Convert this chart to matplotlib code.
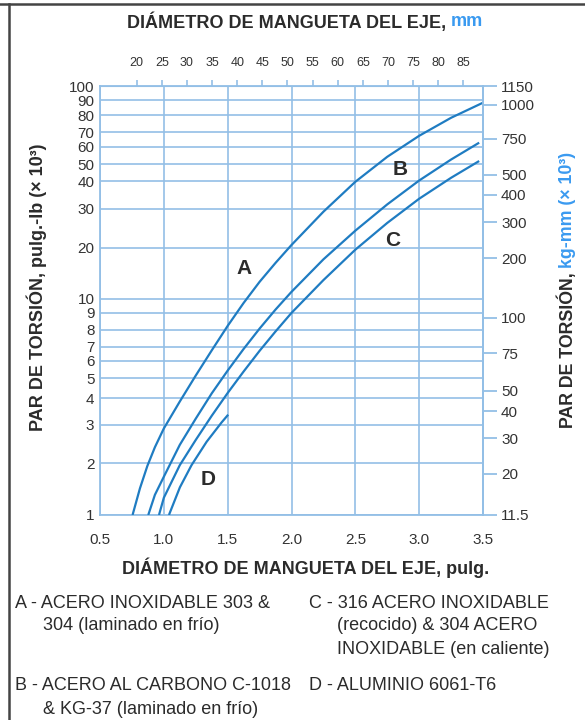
import numpy as np
import matplotlib
matplotlib.use("Agg")
import matplotlib.pyplot as plt

plt.rcParams['font.family'] = ['Liberation Sans', 'DejaVu Sans']

# curves: shaft diameter (in) vs torque (lb-in x 10^3)
diam_a = [0.755, 0.813, 0.871, 0.93, 1.0, 1.125, 1.25, 1.375, 1.5, 1.625, 1.75,
          1.875, 2.0, 2.25, 2.5, 2.75, 3.0, 3.25, 3.5]
torque_a = [1, 1.43, 1.93, 2.37, 2.89, 3.86, 5.14, 6.71, 8.22, 9.69, 12.6,
            16.3, 20.6, 29.1, 39.7, 54.1, 67.3, 78.5, 88.4]
diam_b = [0.878, 0.93, 1.0, 1.125, 1.25, 1.375, 1.5, 1.625, 1.75, 1.875, 2.0,
          2.25, 2.5, 2.75, 3.0, 3.25, 3.47]
torque_b = [1, 1.31, 1.67, 2.43, 3.21, 4.22, 5.41, 6.82, 8.07, 9.21, 11.0,
            17.1, 23.9, 31.4, 40.3, 52.6, 62.6]
diam_c = [0.962, 1.0, 1.125, 1.25, 1.375, 1.5, 1.625, 1.75, 1.875, 2.0,
          2.25, 2.5, 2.75, 3.0, 3.25, 3.47]
torque_c = [1, 1.26, 1.95, 2.56, 3.31, 4.24, 5.36, 6.68, 7.90, 8.98,
            12.9, 19.5, 25.9, 33.3, 41.8, 51.8]
diam_d = [1.04, 1.126, 1.217, 1.335, 1.452, 1.504]
torque_d = [1, 1.45, 1.95, 2.51, 3.08, 3.35]

x_ticks = [0.5, 1.0, 1.5, 2.0, 2.5, 3.0, 3.5]
mm_ticks = [20, 25, 30, 35, 40, 45, 50, 55, 60, 65, 70, 75, 80, 85]
lb_ticks = [1, 2, 3, 4, 5, 6, 7, 8, 9, 10, 20, 30, 40, 50, 60, 70, 80, 90, 100]
kg_ticks = [11.5, 20, 30, 40, 50, 75, 100, 200, 300, 400, 500, 750, 1000, 1150]
kg_labels = ['11.5', '20', '30', '40', '50', '75', '100', '200', '300', '400',
             '500', '750', '1000', '1150']
KG_PER_LB = 11.5

legend_left = [
    ["A - ACERO INOXIDABLE 303 &", "304 (laminado en frío)"],
    ["B - ACERO AL CARBONO C-1018", "& KG-37 (laminado en frío)"],
]
legend_right = [
    ["C - 316 ACERO INOXIDABLE", "(recocido) & 304 ACERO", "INOXIDABLE (en caliente)"],
    ["D - ALUMINIO 6061-T6"],
]

# the printed chart uses an uneven torque scale; height (px) of each gridline
scale_pos = [0, 51.7, 90, 116.7, 136.7, 154.3, 168.3, 185, 202.3, 216,
             267, 306, 333.7, 350.3, 368, 382.7, 399.3, 414.3, 428.7]
log_breaks = np.log10(lb_ticks)


def fwd(v):
    v = np.clip(np.asarray(v, dtype=float), 1e-9, None)
    return np.interp(np.log10(v), log_breaks, scale_pos)


def inv(u):
    return 10 ** np.interp(np.asarray(u, dtype=float), scale_pos, log_breaks)


W, H = 585, 720
BLUE_LINE = '#1f7cc2'
GRID = '#93bfe6'
TXT = '#2b2b2b'
MM_BLUE = '#3a9af0'

fig = plt.figure(figsize=(W / 100, H / 100), dpi=100)
ax = fig.add_axes([100 / W, 1 - 515 / H, 383 / W, 429 / H])

ax.set_yscale('function', functions=(fwd, inv))
ax.set_xlim(0.5, 3.5)
ax.set_ylim(1, 100)
ax.set_xticks(x_ticks, labels=['%.1f' % t for t in x_ticks])
ax.set_yticks(lb_ticks, labels=[str(t) for t in lb_ticks])
ax.minorticks_off()
ax.grid(True, color=GRID, lw=1.2)
ax.set_axisbelow(True)
for s in ax.spines.values():
    s.set_color(GRID)
    s.set_linewidth(1.3)
ax.tick_params(axis='x', length=0, pad=13, labelsize=11, labelcolor='#333')
ax.tick_params(axis='y', length=0, pad=4, labelsize=11, labelcolor='#333')

for d, t in [(diam_a, torque_a), (diam_b, torque_b), (diam_c, torque_c), (diam_d, torque_d)]:
    ax.plot(d, t, color=BLUE_LINE, lw=1.6, zorder=3, solid_capstyle='butt',
            solid_joinstyle='round')

for lab, xx, yy in [('A', 1.63, 15.2), ('B', 2.85, 46.5), ('C', 2.79, 21.5), ('D', 1.345, 1.6)]:
    ax.text(xx, yy, lab, fontsize=15, fontweight='bold', color=TXT,
            ha='center', va='center', zorder=4)

# right axis in kg-mm
ax2 = ax.twinx()
ax2.set_yscale('function', functions=(fwd, inv))
ax2.set_ylim(1, 100)
ax2.set_yticks(np.array(kg_ticks) / KG_PER_LB, labels=kg_labels)
ax2.minorticks_off()
for name, s in ax2.spines.items():
    s.set_visible(name == 'right')
    s.set_color(GRID)
    s.set_linewidth(1.3)
ax2.tick_params(axis='y', length=10, width=1.3, color=GRID, pad=3,
                labelsize=11, labelcolor='#333')

# top axis in mm
secax = ax.secondary_xaxis('top', functions=(lambda d: d * 25.4, lambda m: m / 25.4))
secax.set_xticks(mm_ticks, labels=[str(m) for m in mm_ticks])
secax.spines['top'].set_color(GRID)
secax.tick_params(axis='x', length=4, width=1.2, color=GRID, pad=8,
                  labelsize=9, labelcolor='#333')


def px(x, y):
    return x / W, 1 - y / H


def two_tone(cx, cy, parts, rotation=0, **kw):
    texts = []
    for s, c in parts:
        t = fig.text(*px(cx, cy), s, color=c, rotation=rotation,
                     rotation_mode='anchor', ha='left', va='center', **kw)
        texts.append(t)
    fig.canvas.draw()
    r = fig.canvas.get_renderer()
    sizes = []
    for t in texts:
        bb = t.get_window_extent(r)
        sizes.append(bb.height if rotation else bb.width)
    total = sum(sizes)
    pos = -total / 2
    for t, sz in zip(texts, sizes):
        if rotation:
            t.set_position(px(cx, cy - pos))
        else:
            t.set_position(px(cx + pos, cy))
        pos += sz


two_tone(305, 22, [("DIÁMETRO DE MANGUETA DEL EJE, ", TXT), ("mm", MM_BLUE)],
         fontsize=13, fontweight='bold')
two_tone(306, 568, [("DIÁMETRO DE MANGUETA DEL EJE, pulg.", TXT)],
         fontsize=13, fontweight='bold')
two_tone(37, 287, [("PAR DE TORSIÓN, pulg.-lb (× 10³)", TXT)],
         rotation=90, fontsize=13, fontweight='bold')
two_tone(567, 290, [("PAR DE TORSIÓN, ", TXT), ("kg-mm (× 10³)", MM_BLUE)],
         rotation=90, fontsize=12.8, fontweight='bold')

# material key
row_h = 23
for col_x, groups in [(15, legend_left), (309, legend_right)]:
    for g, y0 in zip(groups, [603, 686]):
        for i, line in enumerate(g):
            x = col_x if i == 0 else col_x + 28
            fig.text(*px(x, y0 + i * row_h), line, fontsize=13, color=TXT, va='center')

# frame lines of the printed figure
fig.add_artist(plt.Line2D([0, 1], [1 - 4 / H, 1 - 4 / H], color='#444', lw=1.8))
fig.add_artist(plt.Line2D([9 / W, 9 / W], [0, 1 - 4 / H], color='#444', lw=1.8))

fig.savefig('out.png', dpi=100)
